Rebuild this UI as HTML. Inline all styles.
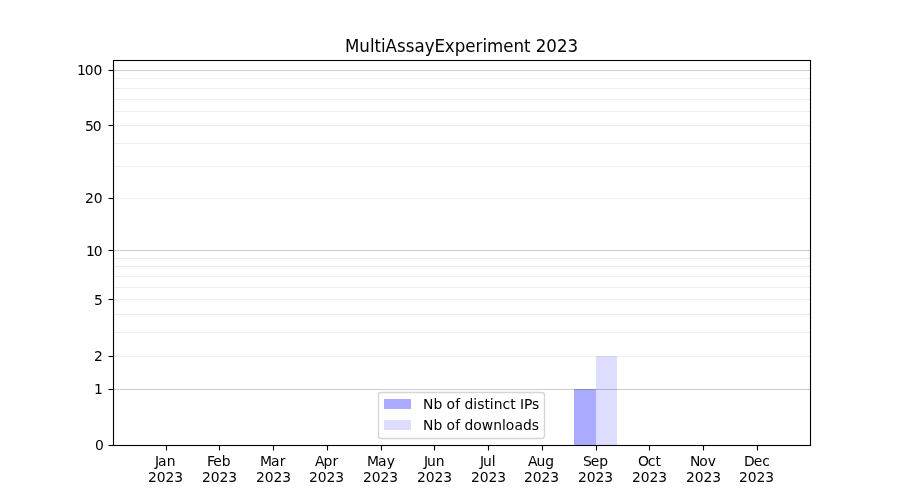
<!DOCTYPE html>
<html lang="en"><head><meta charset="utf-8"><title>MultiAssayExperiment 2023</title>
<style>html,body{margin:0;padding:0;background:#fff}body{width:900px;height:500px;overflow:hidden}svg{display:block}text{font-family:"DejaVu Sans","Liberation Sans",sans-serif;fill:#000}.t10{font-size:13.889px}.t12{font-size:16.667px}</style>
</head><body>
<svg width="900" height="500" viewBox="0 0 900 500">
<rect width="900" height="500" fill="#fff"/>
<g shape-rendering="crispEdges">
<rect x="574" y="389" width="22" height="56" fill="#aaaaff"/>
<rect x="596" y="356" width="21" height="89" fill="#ddddff"/>
</g>
<g fill="#000" shape-rendering="crispEdges">
<rect x="114" y="389" width="696" height="1" fill-opacity="0.2"/>
<rect x="114" y="250" width="696" height="1" fill-opacity="0.2"/>
<rect x="114" y="70" width="696" height="1" fill-opacity="0.2"/>
<rect x="114" y="356" width="696" height="1" fill-opacity="0.067"/>
<rect x="114" y="332" width="696" height="1" fill-opacity="0.067"/>
<rect x="114" y="314" width="696" height="1" fill-opacity="0.067"/>
<rect x="114" y="299" width="696" height="1" fill-opacity="0.067"/>
<rect x="114" y="287" width="696" height="1" fill-opacity="0.067"/>
<rect x="114" y="276" width="696" height="1" fill-opacity="0.067"/>
<rect x="114" y="266" width="696" height="1" fill-opacity="0.067"/>
<rect x="114" y="258" width="696" height="1" fill-opacity="0.067"/>
<rect x="114" y="198" width="696" height="1" fill-opacity="0.067"/>
<rect x="114" y="166" width="696" height="1" fill-opacity="0.067"/>
<rect x="114" y="143" width="696" height="1" fill-opacity="0.067"/>
<rect x="114" y="125" width="696" height="1" fill-opacity="0.067"/>
<rect x="114" y="111" width="696" height="1" fill-opacity="0.067"/>
<rect x="114" y="99" width="696" height="1" fill-opacity="0.067"/>
<rect x="114" y="88" width="696" height="1" fill-opacity="0.067"/>
<rect x="114" y="78" width="696" height="1" fill-opacity="0.067"/>
</g>
<g stroke="#000" stroke-width="1.111" fill="none">
<line x1="166.5" x2="166.5" y1="445.5" y2="450.5"/>
<line x1="219.5" x2="219.5" y1="445.5" y2="450.5"/>
<line x1="273.5" x2="273.5" y1="445.5" y2="450.5"/>
<line x1="327.5" x2="327.5" y1="445.5" y2="450.5"/>
<line x1="381.5" x2="381.5" y1="445.5" y2="450.5"/>
<line x1="434.5" x2="434.5" y1="445.5" y2="450.5"/>
<line x1="488.5" x2="488.5" y1="445.5" y2="450.5"/>
<line x1="542.5" x2="542.5" y1="445.5" y2="450.5"/>
<line x1="596.5" x2="596.5" y1="445.5" y2="450.5"/>
<line x1="649.5" x2="649.5" y1="445.5" y2="450.5"/>
<line x1="703.5" x2="703.5" y1="445.5" y2="450.5"/>
<line x1="757.5" x2="757.5" y1="445.5" y2="450.5"/>
<line x1="108.5" x2="113.5" y1="445.5" y2="445.5"/>
<line x1="108.5" x2="113.5" y1="389.5" y2="389.5"/>
<line x1="108.5" x2="113.5" y1="356.5" y2="356.5"/>
<line x1="108.5" x2="113.5" y1="299.5" y2="299.5"/>
<line x1="108.5" x2="113.5" y1="250.5" y2="250.5"/>
<line x1="108.5" x2="113.5" y1="198.5" y2="198.5"/>
<line x1="108.5" x2="113.5" y1="125.5" y2="125.5"/>
<line x1="108.5" x2="113.5" y1="70.5" y2="70.5"/>
<rect x="113.5" y="60.5" width="697" height="385" stroke-linejoin="miter"/>
</g>
<rect x="378.5" y="392.5" width="166" height="46" rx="2.78" ry="2.78" fill="#fff" stroke="#ccc" stroke-width="1.389" opacity="0.8"/>
<g shape-rendering="crispEdges"><rect x="384" y="399" width="27" height="10" fill="#aaaaff"/><rect x="384" y="420" width="27" height="10" fill="#ddddff"/></g>
<text class="t10" transform="translate(0 466.03) scale(1 1.020)" x="154.99 158.07 166.83" y="0">Jan</text>
<text class="t10" transform="translate(0 481.58) scale(1 1.040)" x="148.03 156.84 165.42 174.25" y="0">2023</text>
<text class="t10" transform="translate(0 466.03) scale(1 1.020)" x="206.89 213.36 221.64" y="0">Feb</text>
<text class="t10" transform="translate(0 481.58) scale(1 1.040)" x="202.01 210.82 219.40 228.23" y="0">2023</text>
<text class="t10" transform="translate(0 466.03) scale(1 1.020)" x="260.07 271.04 279.79" y="0">Mar</text>
<text class="t10" transform="translate(0 481.58) scale(1 1.040)" x="256.00 264.81 273.39 282.22" y="0">2023</text>
<text class="t10" transform="translate(0 466.03) scale(1 1.060)" x="314.89 323.62 332.44" y="0">Apr</text>
<text class="t10" transform="translate(0 481.58) scale(1 1.040)" x="308.99 317.80 326.38 335.21" y="0">2023</text>
<text class="t10" transform="translate(0 466.03) scale(1 1.020)" x="367.04 378.01 386.76" y="0">May</text>
<text class="t10" transform="translate(0 481.58) scale(1 1.040)" x="362.97 371.78 380.61 389.19" y="0">2023</text>
<text class="t10" transform="translate(0 466.03) scale(1 1.040)" x="424.03 427.11 435.65" y="0">Jun</text>
<text class="t10" transform="translate(0 481.58) scale(1 1.040)" x="416.96 425.77 434.60 443.18" y="0">2023</text>
<text class="t10" transform="translate(0 466.03) scale(1 1.040)" x="479.99 483.07 491.86" y="0">Jul</text>
<text class="t10" transform="translate(0 481.58) scale(1 1.040)" x="470.94 479.75 488.58 497.16" y="0">2023</text>
<text class="t10" x="528.04 536.52 545.32" y="466.03">Aug</text>
<text class="t10" transform="translate(0 481.58) scale(1 1.040)" x="523.93 532.74 541.57 550.15" y="0">2023</text>
<text class="t10" transform="translate(0 466.03) scale(1 1.060)" x="583.00 590.80 599.34" y="0">Sep</text>
<text class="t10" transform="translate(0 481.58) scale(1 1.040)" x="577.92 586.73 595.56 604.14" y="0">2023</text>
<text class="t10" x="638.07 647.73 655.62" y="466.03">Oct</text>
<text class="t10" transform="translate(0 481.58) scale(1 1.040)" x="631.90 640.71 649.54 658.37" y="0">2023</text>
<text class="t10" x="690.01 699.14 707.87" y="466.03">Nov</text>
<text class="t10" transform="translate(0 481.58) scale(1 1.040)" x="685.89 694.70 703.53 712.36" y="0">2023</text>
<text class="t10" transform="translate(0 466.03) scale(1 1.020)" x="744.11 753.78 762.33" y="0">Dec</text>
<text class="t10" x="738.88 747.69 756.52 765.35" y="481.58">2023</text>
<text class="t10" transform="translate(0 449.53) scale(1 1.040)" x="94.95" y="0">0</text>
<text class="t10" x="93.95" y="393.56">1</text>
<text class="t10" transform="translate(0 360.61) scale(1 1.040)" x="93.95" y="0">2</text>
<text class="t10" transform="translate(0 304.52) scale(1 1.020)" x="93.95" y="0">5</text>
<text class="t10" transform="translate(0 255.50) scale(1 1.020)" x="86.12 93.69" y="0">10</text>
<text class="t10" transform="translate(0 202.57) scale(1 1.060)" x="85.12 93.69" y="0">20</text>
<text class="t10" transform="translate(0 130.57) scale(1 1.060)" x="85.12 92.69" y="0">50</text>
<text class="t10" x="77.05 84.86 93.44" y="74.53">100</text>
<text class="t12" transform="translate(0 51.54) scale(1 1.060)" x="345.01 359.38 369.94 374.56 381.09 385.47 397.11 405.79 414.48 424.68 434.55 444.81 454.67 465.24 475.49 482.59 486.97 503.19 513.45 523.99 530.53 535.82 546.18 557.02 567.61" y="0">MultiAssayExperiment 2023</text>
<text class="t10" x="423.00 433.38 442.17 446.59 455.33 459.97 464.38 473.19 477.28 484.52 489.70 493.81 502.61 510.23 515.42 520.08 523.92 532.05" y="408.60">Nb of distinct IPs</text>
<text class="t10" x="423.00 433.38 442.17 446.59 455.33 459.97 464.38 473.19 481.67 493.27 502.06 505.67 514.41 522.91 531.72" y="429.61">Nb of downloads</text>
</svg>
</body></html>
